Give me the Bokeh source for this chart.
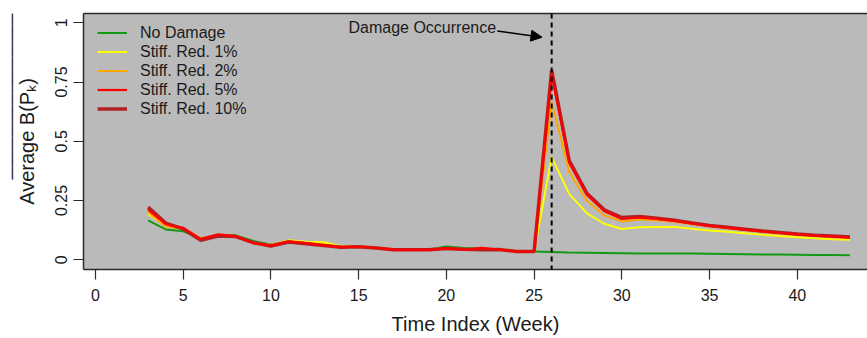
from bokeh.plotting import figure
from bokeh.models import (Range1d, FixedTicker, LinearAxis, Span, Label, Arrow,
                          NormalHead, Legend, LegendItem, ColumnDataSource, Title)
from bokeh.embed import file_html
from bokeh.resources import INLINE

# ---------------- data ----------------
weeks = list(range(3, 44))

no_damage = [0.166, 0.128, 0.120, 0.090, 0.105, 0.103, 0.079, 0.065, 0.077, 0.070,
             0.063, 0.055, 0.057, 0.050, 0.043, 0.043, 0.043, 0.056, 0.050, 0.048,
             0.043, 0.037, 0.035, 0.033, 0.031, 0.030, 0.029, 0.028, 0.027, 0.027,
             0.027, 0.026, 0.025, 0.024, 0.023, 0.022, 0.022, 0.021, 0.020, 0.020, 0.019]

stiff_1 = [0.194, 0.145, 0.130, 0.090, 0.103, 0.100, 0.072, 0.062, 0.082, 0.076,
           0.074, 0.057, 0.058, 0.050, 0.044, 0.043, 0.043, 0.050, 0.045, 0.045,
           0.045, 0.037, 0.035, 0.433, 0.278, 0.197, 0.152, 0.130, 0.137, 0.138,
           0.139, 0.131, 0.124, 0.118, 0.112, 0.106, 0.100, 0.095, 0.091, 0.087, 0.084]

stiff_2 = [0.200, 0.140, 0.130, 0.090, 0.103, 0.100, 0.070, 0.062, 0.080, 0.072,
           0.065, 0.055, 0.057, 0.050, 0.043, 0.043, 0.043, 0.048, 0.045, 0.046,
           0.045, 0.036, 0.035, 0.665, 0.370, 0.250, 0.187, 0.162, 0.170, 0.166,
           0.160, 0.150, 0.140, 0.133, 0.125, 0.118, 0.111, 0.105, 0.100, 0.096, 0.092]

stiff_5 = [0.211, 0.150, 0.135, 0.088, 0.107, 0.100, 0.070, 0.060, 0.077, 0.070,
           0.061, 0.053, 0.055, 0.050, 0.042, 0.042, 0.042, 0.048, 0.042, 0.050,
           0.043, 0.035, 0.035, 0.780, 0.410, 0.275, 0.205, 0.172, 0.179, 0.172,
           0.164, 0.153, 0.143, 0.135, 0.127, 0.120, 0.113, 0.107, 0.102, 0.098, 0.094]

stiff_10 = [0.222, 0.155, 0.130, 0.082, 0.100, 0.098, 0.072, 0.058, 0.075, 0.068,
            0.060, 0.053, 0.055, 0.050, 0.042, 0.042, 0.042, 0.048, 0.044, 0.042,
            0.043, 0.035, 0.035, 0.800, 0.419, 0.281, 0.211, 0.178, 0.183, 0.175,
            0.167, 0.155, 0.145, 0.137, 0.129, 0.121, 0.115, 0.109, 0.104, 0.100, 0.096]

series_names = ["No Damage", "Stiff. Red. 1%", "Stiff. Red. 2%", "Stiff. Red. 5%", "Stiff. Red. 10%"]

x_ticks = [0, 5, 10, 15, 20, 25, 30, 35, 40]
y_ticks = [0, 0.25, 0.5, 0.75, 1]
y_tick_labels = ["0", "0.25", "0.5", "0.75", "1"]

damage_week = 26
annot_text = "Damage Occurrence"
annot_pos = (14.42, 0.981)
arrow_from = (22.9, 0.965)
arrow_to = (25.45, 0.939)

# ---------------- figure ----------------
FONT = "Liberation Sans"
TXT = "#1a1a1a"
FRAME = "#2b2b2b"

p = figure(width=867, height=338, output_backend="svg", toolbar_location=None,
           x_range=Range1d(-0.68, 44.0), y_range=Range1d(-0.041, 1.039),
           min_border_left=83, min_border_right=0, min_border_top=13,
           min_border_bottom=69)
p.background_fill_color = "#BABABA"
p.border_fill_color = "white"
p.outline_line_color = None
p.xgrid.visible = False
p.ygrid.visible = False

for ax in (p.xaxis[0], p.yaxis[0]):
    ax.axis_line_color = FRAME
    ax.axis_line_width = 1.5
    ax.major_tick_line_color = FRAME
    ax.major_tick_line_width = 1.2
    ax.major_tick_out = 10
    ax.major_tick_in = 0
    ax.minor_tick_line_color = None
    ax.major_label_text_font = FONT
    ax.major_label_text_font_size = "16px"
    ax.major_label_text_color = TXT
    ax.axis_label_text_font = FONT
    ax.axis_label_text_font_size = "20px"
    ax.axis_label_text_font_style = "normal"
    ax.axis_label_text_color = TXT

p.xaxis.ticker = FixedTicker(ticks=x_ticks)
p.xaxis.major_label_standoff = 9
p.xaxis.axis_label = "Time Index (Week)"
p.xaxis.axis_label_standoff = 9

p.yaxis.ticker = FixedTicker(ticks=y_ticks)
p.yaxis.major_label_overrides = {t: l for t, l in zip(y_ticks, y_tick_labels)}
p.yaxis.major_label_orientation = "vertical"
p.yaxis.major_label_standoff = 6
p.yaxis.axis_label = "Average B(P\u2096)"
p.yaxis.axis_label_standoff = 15

top_axis = LinearAxis(ticker=FixedTicker(ticks=[]), axis_line_color=FRAME,
                      axis_line_width=1.5, major_tick_line_color=None,
                      minor_tick_line_color=None, major_label_text_font_size="0px")
p.add_layout(top_axis, "above")

# overline above the y-axis title (as drawn in the original figure)
p.add_layout(Title(text="\u2581" * 27, align="right", offset=0, standoff=0,
                   text_font="DejaVu Sans", text_font_size="8px",
                   text_font_style="normal", text_color="#222222"), "left")

# lines
src = ColumnDataSource(dict(week=weeks, g=no_damage, y1=stiff_1, y2=stiff_2,
                            y5=stiff_5, y10=stiff_10))
r_g = p.line("week", "g", source=src, line_color="#139A13", line_width=2)
r_1 = p.line("week", "y1", source=src, line_color="#FFFF00", line_width=2)
r_2 = p.line("week", "y2", source=src, line_color="#FFA500", line_width=2)
r_10 = p.line("week", "y10", source=src, line_color="#B22222", line_width=3.5)
r_5 = p.line("week", "y5", source=src, line_color="#FF0000", line_width=2.2)

# damage marker
p.add_layout(Span(location=damage_week, dimension="height", line_color="black",
                  line_width=2, line_dash="5 4"))
p.add_layout(Label(x=annot_pos[0], y=annot_pos[1], text=annot_text,
                   text_font=FONT, text_font_size="16px", text_color=TXT,
                   text_align="left", text_baseline="middle"))
p.add_layout(Arrow(end=NormalHead(size=11, fill_color="black", line_color="black"),
                   x_start=arrow_from[0], y_start=arrow_from[1],
                   x_end=arrow_to[0], y_end=arrow_to[1],
                   line_color="black", line_width=1.5))

legend = Legend(items=[LegendItem(label=n, renderers=[r]) for n, r in
                       zip(series_names, [r_g, r_1, r_2, r_5, r_10])],
                location=(14, 151), padding=0, margin=0, spacing=0,
                label_height=19, glyph_height=19, glyph_width=30,
                label_standoff=13, background_fill_alpha=0,
                border_line_color=None, label_text_font=FONT,
                label_text_font_size="16px", label_text_color=TXT)
p.add_layout(legend, "center")

open("out.html", "w").write(file_html(p, INLINE))
